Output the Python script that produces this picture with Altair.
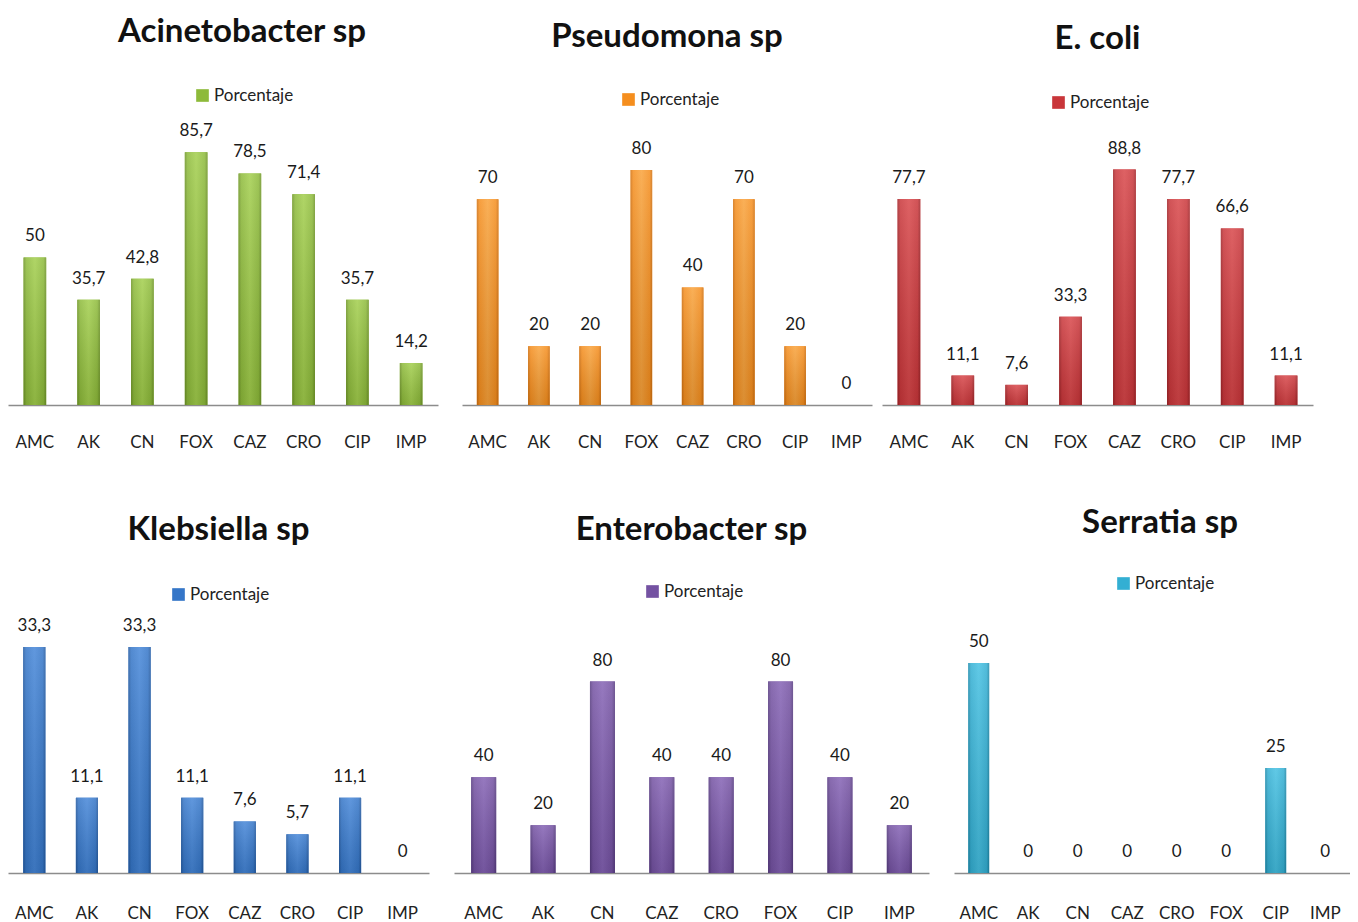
import altair as alt
import pandas as pd

FONT = "Lato"

acin_cats = ["AMC", "AK", "CN", "FOX", "CAZ", "CRO", "CIP", "IMP"]
acin_vals = [50, 35.7, 42.8, 85.7, 78.5, 71.4, 35.7, 14.2]

pseu_cats = ["AMC", "AK", "CN", "FOX", "CAZ", "CRO", "CIP", "IMP"]
pseu_vals = [70, 20, 20, 80, 40, 70, 20, 0]

ecoli_cats = ["AMC", "AK", "CN", "FOX", "CAZ", "CRO", "CIP", "IMP"]
ecoli_vals = [77.7, 11.1, 7.6, 33.3, 88.8, 77.7, 66.6, 11.1]

kleb_cats = ["AMC", "AK", "CN", "FOX", "CAZ", "CRO", "CIP", "IMP"]
kleb_vals = [33.3, 11.1, 33.3, 11.1, 7.6, 5.7, 11.1, 0]

ent_cats = ["AMC", "AK", "CN", "CAZ", "CRO", "FOX", "CIP", "IMP"]
ent_vals = [40, 20, 80, 40, 40, 80, 40, 20]

ser_cats = ["AMC", "AK", "CN", "CAZ", "CRO", "FOX", "CIP", "IMP"]
ser_vals = [50, 0, 0, 0, 0, 0, 25, 0]


def fmt(v):
    s = ("%g" % v)
    return s.replace(".", ",")


def panel(title, cats, vals, base, light, dark, width, height, ymax,
          legend_x, legend_y, title_offset, title_dx, label_pad):
    df = pd.DataFrame({
        "antibiotico": cats,
        "valor": vals,
        "serie": ["Porcentaje"] * len(cats),
        "etiqueta": [fmt(v) for v in vals],
    })
    x = alt.X("antibiotico:N", sort=cats,
              scale=alt.Scale(paddingInner=0.58, paddingOuter=0.29),
              axis=alt.Axis(title=None, labelAngle=0, ticks=False,
                            domainColor="#8c8c8c", domainWidth=1.5,
                            labelFont=FONT, labelFontSize=17,
                            labelColor="#222222", labelPadding=label_pad))
    y = alt.Y("valor:Q", scale=alt.Scale(domain=[0, ymax]), axis=None)

    flat = alt.Chart(df).mark_bar().encode(
        x=x, y=y,
        color=alt.Color("serie:N", scale=alt.Scale(range=[base]),
                        legend=alt.Legend(title=None, orient="none",
                                          legendX=legend_x, legendY=legend_y,
                                          symbolType="square", symbolSize=160,
                                          symbolStrokeWidth=0,
                                          labelFont=FONT, labelFontSize=17,
                                          labelColor="#222222", padding=0,
                                          labelOffset=3)))
    grad = alt.Chart(df).mark_bar(
        fill=alt.LinearGradient(
            gradient="linear", x1=0, x2=1, y1=0, y2=0,
            stops=[alt.GradientStop(offset=0, color=dark),
                   alt.GradientStop(offset=0.12, color=base),
                   alt.GradientStop(offset=0.5, color=light),
                   alt.GradientStop(offset=0.88, color=base),
                   alt.GradientStop(offset=1, color=dark)])
    ).encode(x=x, y=y)
    shade = alt.Chart(df).mark_bar(
        fill=alt.LinearGradient(
            gradient="linear", x1=0, x2=0, y1=0, y2=1,
            stops=[alt.GradientStop(offset=0, color="rgba(255,255,255,0.15)"),
                   alt.GradientStop(offset=1, color="rgba(0,0,0,0.12)")])
    ).encode(x=x, y=y)
    text = alt.Chart(df).mark_text(
        dy=-21, font=FONT, fontSize=17, color="#1a1a1a"
    ).encode(x=x, y=y, text="etiqueta:N")

    return alt.layer(flat, grad, shade, text).properties(
        width=width, height=height,
        title=alt.TitleParams(text=title, font=FONT, fontSize=33,
                              fontWeight="bold", color="#111111",
                              anchor="middle", dx=title_dx,
                              offset=title_offset))


p1 = panel("Acinetobacter sp", acin_cats, acin_vals,
           "#8DBA3A", "#A2CE4C", "#6E9428", 430, 285, 96.6, 186, -33, 38, 19, 29)
p2 = panel("Pseudomona sp", pseu_cats, pseu_vals,
           "#F58E1E", "#F9A23A", "#D07010", 410, 285, 97, 158, -29, 37, 0, 29)
p3 = panel("E. coli", ecoli_cats, ecoli_vals,
           "#C9363A", "#D84649", "#A02428", 431, 285, 107.5, 168, -26, 38, 0, 29)
p4 = panel("Klebsiella sp", kleb_cats, kleb_vals,
           "#3576C8", "#4586D8", "#245AA0", 421, 268, 39.5, 162, -19, 39, 0, 32)
p5 = panel("Enterobacter sp", ent_cats, ent_vals,
           "#7452A2", "#8462B4", "#573C80", 475, 268, 112, 190, -22, 36, 0, 32)
p6 = panel("Serratia sp", ser_cats, ser_vals,
           "#33AFD3", "#45C0E2", "#1F88A8", 396, 268, 63.8, 161, -30, 35, 8, 32)

row1 = alt.hconcat(
    alt.hconcat(p1, p2, spacing=24).resolve_scale(color="independent").resolve_legend(color="independent"),
    p3, spacing=10
).resolve_scale(color="independent").resolve_legend(color="independent")
row2 = alt.hconcat(p4, p5, p6, spacing=25).resolve_scale(
    color="independent").resolve_legend(color="independent")

chart = alt.vconcat(row1, row2, spacing=57).resolve_scale(
    color="independent").resolve_legend(color="independent").properties(
    padding={"top": 8, "left": 0, "right": 0, "bottom": 0}, background="white"
).configure_view(stroke=None)

chart.save("out.html", embed_options={"renderer": "svg", "actions": False})
